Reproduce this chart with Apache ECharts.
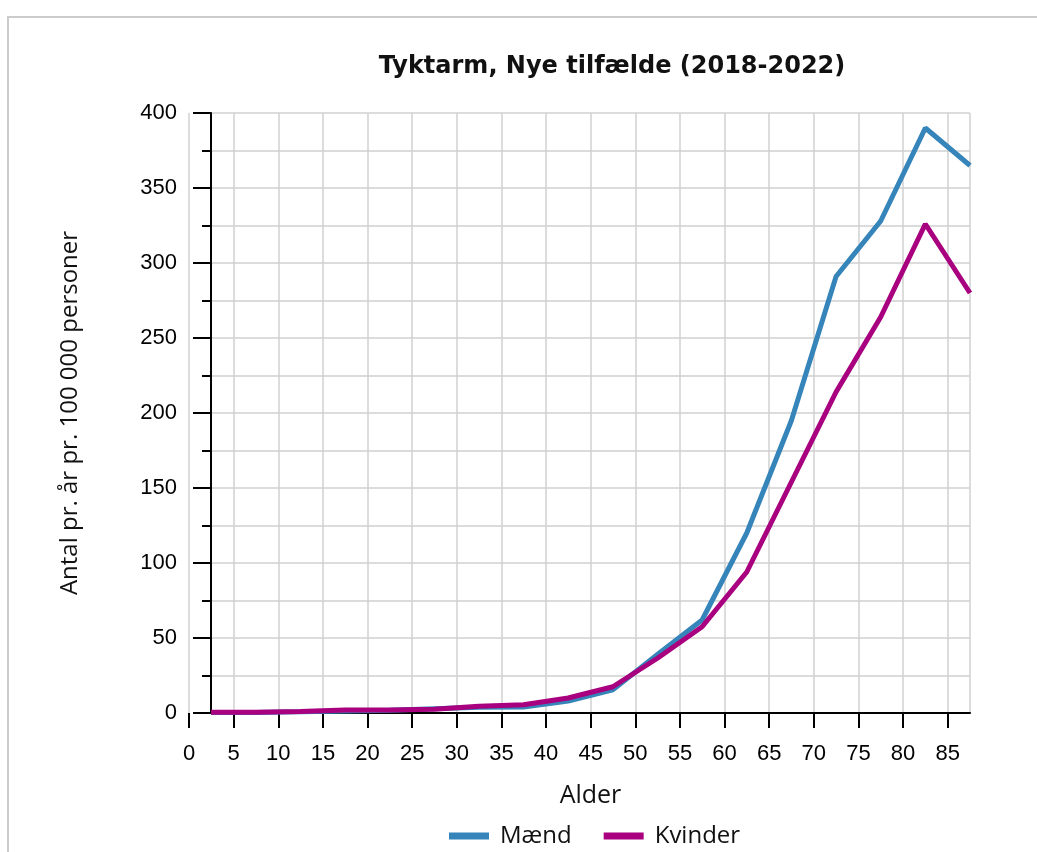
<!DOCTYPE html>
<html>
<head>
<meta charset="utf-8">
<script src="https://cdn.jsdelivr.net/npm/echarts@6/dist/echarts.min.js"></script>
<style>html,body{margin:0;padding:0;background:#fff}#c{width:1037px;height:852px}</style>
</head>
<body>
<div id="c"></div>
<script>
const ages = [2.5, 7.5, 12.5, 17.5, 22.5, 27.5, 32.5, 37.5, 42.5, 47.5, 52.5, 57.5, 62.5, 67.5, 72.5, 77.5, 82.5, 87.5];
const maend = [0.3, 0.4, 0.8, 1.3, 1.8, 2.8, 3.8, 4, 8, 15.5, 39, 62, 120, 195, 291, 328, 390, 365];
const kvinder = [0.5, 0.5, 1, 2, 2, 2.5, 4.5, 5.5, 10, 17.5, 36.5, 57.5, 94, 154, 214, 264, 326, 280];
const seriesNames = ['Mænd', 'Kvinder'];
const title = 'Tyktarm, Nye tilfælde (2018-2022)';
const yName = 'Antal pr. år pr. 100 000 personer';
const xName = 'Alder';

const pairs = arr => ages.map((a, i) => [a, arr[i]]);
const grid = '#d0d0d0';
const chart = echarts.init(document.getElementById('c'), null, {renderer: 'canvas'});
chart.setOption({
  animation: false,
  backgroundColor: '#fff',
  title: {
    text: title, left: 607, top: 50, textAlign: 'center',
    textStyle: {fontFamily: 'DejaVu Sans', fontWeight: 'bold', fontSize: 24, color: '#111'}
  },
  graphic: [{
    type: 'rect', shape: {x: 8, y: 17, width: 1200, height: 1000},
    style: {fill: 'none', stroke: '#cccccc', lineWidth: 2}, silent: true, z: 0
  }],
  legend: {
    data: seriesNames, left: 444, top: 819, itemWidth: 40, itemHeight: 7, itemGap: 32,
    icon: 'rect',
    textStyle: {fontFamily: 'Open Sans', fontSize: 24, color: '#111', padding: [0, 0, 0, 6]}
  },
  grid: [
    {left: 189, right: 67, top: 113, bottom: 139},
    {left: 211, right: 67, top: 113, bottom: 139}
  ],
  xAxis: [
    {
      type: 'value', gridIndex: 0, min: 0, max: 87.5, interval: 5,
      axisLine: {show: false},
      axisTick: {show: true, length: 15, lineStyle: {color: '#000', width: 2}},
      axisLabel: {margin: 30, fontFamily: 'Liberation Sans', fontSize: 22, color: '#000',
        showMaxLabel: false},
      splitLine: {show: true, lineStyle: {color: grid, width: 1.5}}
    },
    {
      type: 'value', gridIndex: 1, min: 2.5, max: 87.5,
      name: xName, nameLocation: 'middle', nameGap: 70,
      nameTextStyle: {fontFamily: 'Open Sans', fontSize: 25, color: '#111'},
      axisLine: {show: true, onZero: false, lineStyle: {color: '#000', width: 2}},
      axisTick: {show: false}, axisLabel: {show: false}, splitLine: {show: false}
    }
  ],
  yAxis: [
    {type: 'value', gridIndex: 0, min: 0, max: 400, show: false, splitLine: {show: false}},
    {
      type: 'value', gridIndex: 1, min: 0, max: 400, interval: 50,
      name: yName, nameLocation: 'middle', nameGap: 129, nameRotate: 90,
      nameTextStyle: {fontFamily: 'Open Sans', fontSize: 24, color: '#111'},
      axisLine: {show: true, onZero: false, lineStyle: {color: '#000', width: 2}},
      axisTick: {show: true, length: 18, lineStyle: {color: '#000', width: 2}},
      minorTick: {show: true, splitNumber: 2, length: 9, lineStyle: {color: '#000', width: 2}},
      axisLabel: {margin: 34, fontFamily: 'Liberation Sans', fontSize: 22, color: '#000'},
      splitLine: {show: true, lineStyle: {color: grid, width: 1.5}},
      minorSplitLine: {show: true, lineStyle: {color: grid, width: 1.5}}
    }
  ],
  series: [
    {name: seriesNames[0], type: 'line', xAxisIndex: 1, yAxisIndex: 1, data: pairs(maend),
      showSymbol: false, symbol: 'none', color: '#3584ba', lineStyle: {width: 5, color: '#3584ba'}},
    {name: seriesNames[1], type: 'line', xAxisIndex: 1, yAxisIndex: 1, data: pairs(kvinder),
      showSymbol: false, symbol: 'none', color: '#a8007f', lineStyle: {width: 5, color: '#a8007f'}}
  ]
});
</script>
</body>
</html>
